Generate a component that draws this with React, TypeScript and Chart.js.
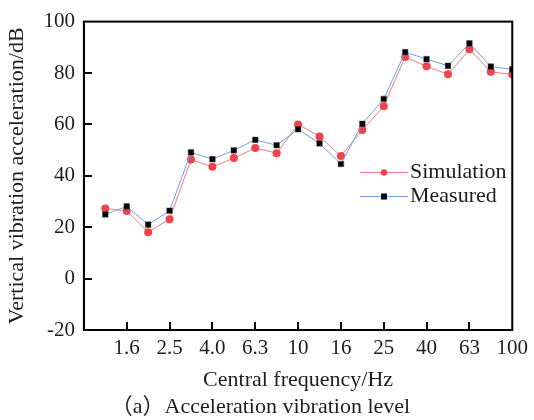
import React, { useEffect, useRef } from "react";
import { Chart, registerables } from "chart.js";

Chart.register(...registerables);

const categories = ["1.0", "1.25", "1.6", "2.0", "2.5", "3.15", "4.0", "5.0", "6.3", "8", "10", "12.5", "16", "20", "25", "31.5", "40", "50", "63", "80", "100"];
const shownTicks = ["1.6", "2.5", "4.0", "6.3", "10", "16", "25", "40", "63", "100"];
const simulation = [null, 27.3, 26.3, 18.0, 23.1, 46.3, 43.5, 46.9, 50.8, 48.8, 60.0, 55.3, 47.7, 57.8, 67.1, 86.2, 82.6, 79.5, 89.2, 80.5, 79.4];
const measured = [null, 25.0, 28.1, 21.0, 26.4, 49.1, 46.5, 49.9, 54.0, 51.9, 58.1, 52.6, 44.6, 60.2, 69.9, 88.1, 85.4, 82.8, 91.5, 82.5, 81.4];
const seriesNames = ["Simulation", "Measured"];
const yTitle = "Vertical vibration acceleration/dB";
const xTitle = "Central frequency/Hz";
const caption = "（a）Acceleration vibration level";

const FONT = "'Liberation Serif', 'Times New Roman', 'Noto Sans CJK SC', serif";
const TEXT = "#1e1e1e";

const framePlugin = {
  id: "frame",
  afterDraw(chart: any) {
    const ctx = chart.ctx;
    const { left, right, top, bottom } = chart.chartArea;
    ctx.save();
    ctx.strokeStyle = "#000";
    ctx.lineWidth = 2;
    const xs = chart.scales.x;
    const ys = chart.scales.y;
    ctx.beginPath();
    xs.ticks.forEach((t: any) => {
      const px = Math.round(xs.getPixelForValue(t.value));
      if (px > left + 2 && px < right - 2) {
        ctx.moveTo(px, bottom);
        ctx.lineTo(px, bottom - 8);
      }
    });
    ys.ticks.forEach((t: any) => {
      const py = Math.round(ys.getPixelForValue(t.value));
      if (py > top + 2 && py < bottom - 2) {
        ctx.moveTo(left, py);
        ctx.lineTo(left + 8, py);
      }
    });
    ctx.stroke();
    ctx.strokeRect(left, top, right - left, bottom - top);
    // legend
    const lx = 360;
    const rows = [172.5, 196.5];
    chart.data.datasets.forEach((ds: any, i: number) => {
      const name = seriesNames[i];
      const y = rows[i];
      ctx.strokeStyle = ds.borderColor;
      ctx.lineWidth = 1;
      ctx.beginPath();
      ctx.moveTo(lx, y);
      ctx.lineTo(lx + 48, y);
      ctx.stroke();
      ctx.fillStyle = ds.pointBackgroundColor;
      if (ds.pointStyle === "rect") {
        ctx.fillRect(lx + 24 - 3, y - 3, 6, 6);
      } else {
        ctx.beginPath();
        ctx.arc(lx + 24, y, 3.2, 0, Math.PI * 2);
        ctx.fill();
      }
      ctx.fillStyle = TEXT;
      ctx.font = `22px ${FONT}`;
      ctx.textBaseline = "middle";
      ctx.textAlign = "left";
      ctx.fillText(name, lx + 50, y);
    });
    ctx.restore();
  },
};

export default function App() {
  const ref = useRef<HTMLCanvasElement>(null);
  useEffect(() => {
    document.body.style.margin = "0";
    const chart = new Chart(ref.current!, {
      type: "line",
      data: {
        labels: categories,
        datasets: [
          {
            label: seriesNames[0],
            data: simulation,
            borderColor: "#f27d80",
            borderWidth: 1,
            pointStyle: "circle",
            pointRadius: 4,
            pointBackgroundColor: "#f0424a",
            pointBorderColor: "#f0424a",
            pointBorderWidth: 0,
            order: 1,
            clip: 0,
          } as any,
          {
            label: seriesNames[1],
            data: measured,
            borderColor: "#6fa0e6",
            borderWidth: 1,
            pointStyle: "rect",
            pointRadius: 4,
            pointBackgroundColor: "#000000",
            pointBorderColor: "#555555",
            pointBorderWidth: 0.5,
            order: 0,
            clip: 0,
          } as any,
        ],
      },
      options: {
        animation: false,
        responsive: false,
        devicePixelRatio: 1,
        layout: { padding: { top: 12, right: 17, left: 4, bottom: 0 } },
        plugins: {
          legend: { display: false },
          tooltip: { enabled: false },
          title: {
            display: true,
            position: "bottom",
            text: caption,
            color: TEXT,
            font: { family: FONT, size: 22, weight: "normal" },
            padding: { top: 0, bottom: 0 },
          },
        },
        scales: {
          x: {
            type: "category",
            offset: false,
            grid: { display: false, drawTicks: false },
            border: { display: true, color: "#000", width: 2 },
            afterBuildTicks: (scale: any) => {
              scale.ticks = scale.ticks.filter((t: any) => shownTicks.includes(categories[t.value]));
            },
            ticks: {
              autoSkip: false,
              maxRotation: 0,
              color: TEXT,
              padding: 6,
              font: { family: FONT, size: 21 },
            },
            title: {
              display: true,
              text: xTitle,
              color: TEXT,
              font: { family: FONT, size: 22 },
              padding: { top: 0, bottom: 0 },
            },
          },
          y: {
            min: -20,
            max: 100,
            grid: { display: false, drawTicks: false },
            border: { display: true, color: "#000", width: 2 },
            ticks: {
              stepSize: 20,
              color: TEXT,
              padding: 9,
              font: { family: FONT, size: 21 },
            },
            title: {
              display: true,
              text: yTitle,
              color: TEXT,
              font: { family: FONT, size: 22 },
              padding: { top: 0, bottom: 4 },
            },
          },
        },
      } as any,
      plugins: [framePlugin],
    });
    return () => chart.destroy();
  }, []);
  return <canvas ref={ref} width={534} height={420} style={{ display: "block" }} />;
}
